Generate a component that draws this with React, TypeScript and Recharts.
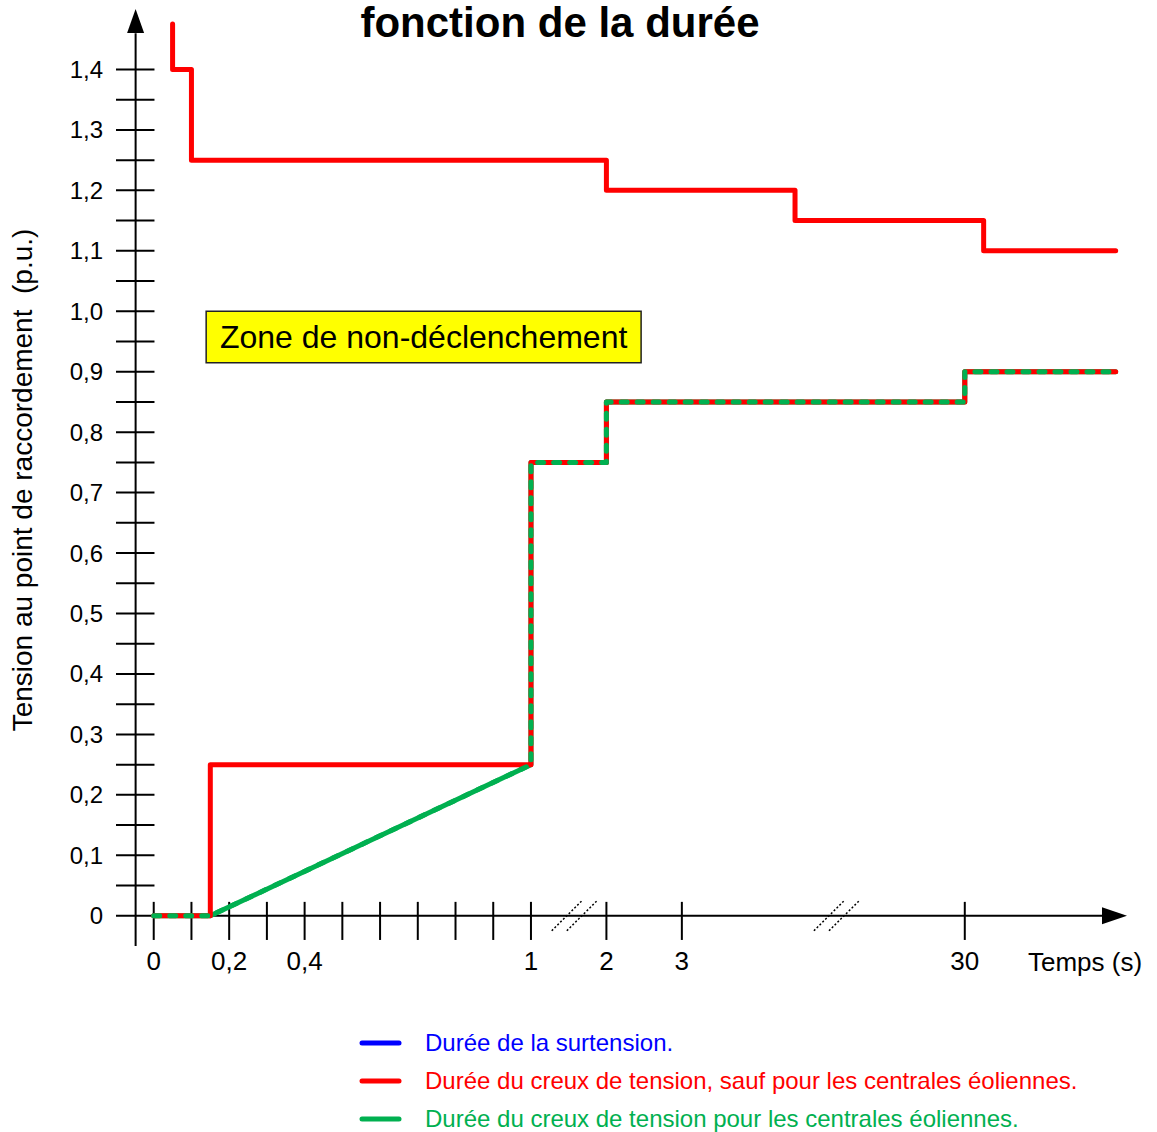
import { LineChart, Line, XAxis, YAxis, ReferenceLine, ReferenceDot, ReferenceArea } from 'recharts'

// x is a position on the broken time axis: 1 unit = 0.1 s up to 1 s, then compressed
const X_TICKS = [0, 1, 2, 3, 4, 5, 6, 7, 8, 9, 10, 12, 14, 21.5]
const X_LABEL_TICKS = [0, 2, 4, 10, 12, 14, 21.5]
const X_LABELS = ['0', '0,2', '0,4', '1', '2', '3', '30']
const X_BREAKS = [11.15, 18.1]

const Y_LABEL_TICKS = [0, 0.1, 0.2, 0.3, 0.4, 0.5, 0.6, 0.7, 0.8, 0.9, 1.0, 1.1, 1.2, 1.3, 1.4]
const Y_MARKS = [
  0.05, 0.1, 0.15, 0.2, 0.25, 0.3, 0.35, 0.4, 0.45, 0.5, 0.55, 0.6, 0.65, 0.7,
  0.75, 0.8, 0.85, 0.9, 0.95, 1.0, 1.05, 1.1, 1.15, 1.2, 1.25, 1.3, 1.35, 1.4,
]

// surtension (upper red)
const overX = [0.5, 0.5, 1, 1, 12, 12, 17, 17, 22, 22, 25.5]
const overV = [1.475, 1.4, 1.4, 1.25, 1.25, 1.2, 1.2, 1.15, 1.15, 1.1, 1.1]
// creux de tension, sauf éoliennes (lower red)
const dipX = [0, 1.5, 1.5, 10, 10, 12, 12, 21.5, 21.5, 25.5]
const dipV = [0, 0, 0.25, 0.25, 0.75, 0.75, 0.85, 0.85, 0.9, 0.9]
// creux de tension, éoliennes (green)
const windX = [0, 1.5, 10, 10, 12, 12, 21.5, 21.5, 25.5]
const windV = [0, 0, 0.25, 0.75, 0.75, 0.85, 0.85, 0.9, 0.9]

const LEGEND_TEXT = [
  'Durée de la surtension.',
  'Durée du creux de tension, sauf pour les centrales éoliennes.',
  'Durée du creux de tension pour les centrales éoliennes.',
]
const LEGEND_COLORS = ['#0000ff', '#ff0000', '#00b050']

const RED = '#ff0000'
const GREEN = '#00b050'
const FONT = '"Liberation Sans", Arial, sans-serif'

const toPts = (xs: number[], vs: number[]) => xs.map((x, i) => ({ x, v: vs[i] }))
const over = toPts(overX, overV)
const dip = toPts(dipX, dipV)
const wind = toPts(windX, windV)

const fmtY = (v: number) => (v === 0 ? '0' : v.toFixed(1).replace('.', ','))
const fmtX = (v: number) => X_LABELS[X_LABEL_TICKS.indexOf(v)] ?? ''

const axisStroke = { stroke: '#000', strokeWidth: 2, ifOverflow: 'visible' as const }

export default function App() {
  return (
    <div style={{ position: 'absolute', left: 0, top: 0, fontFamily: FONT }}>
      <LineChart width={1157} height={1132} margin={{ top: 9, right: 30, bottom: 146, left: 0 }}>
        <XAxis
          dataKey="x"
          type="number"
          domain={[-1, 25.8]}
          allowDataOverflow
          ticks={X_LABEL_TICKS}
          interval={0}
          tickFormatter={fmtX}
          axisLine={false}
          tickLine={false}
          tickSize={0}
          tickMargin={6}
          height={40}
          tick={{ fontSize: 26, fill: '#000', fontFamily: FONT }}
        />
        <YAxis
          type="number"
          domain={[-0.05, 1.5]}
          allowDataOverflow
          ticks={Y_LABEL_TICKS}
          interval={0}
          tickFormatter={fmtY}
          axisLine={false}
          tickLine={false}
          tickSize={0}
          tickMargin={13}
          width={116}
          tick={{ fontSize: 24, fill: '#000', fontFamily: FONT }}
        />

        <ReferenceArea
          x1={1.39}
          x2={12.92}
          y1={0.915}
          y2={1.0}
          fill="#ffff00"
          fillOpacity={1}
          stroke="#222"
          strokeWidth={1.5}
          ifOverflow="visible"
          label={{ value: 'Zone de non-déclenchement', position: 'center', fontSize: 32, fill: '#000', fontFamily: FONT }}
        />

        {/* axes */}
        <ReferenceLine segment={[{ x: -1, y: 0 }, { x: 25.15, y: 0 }]} {...axisStroke} />
        <ReferenceLine segment={[{ x: -0.48, y: -0.05 }, { x: -0.48, y: 1.46 }]} {...axisStroke} />
        {Y_MARKS.map((v) => (
          <ReferenceLine key={'ym' + v} segment={[{ x: -1, y: v }, { x: 0.02, y: v }]} {...axisStroke} />
        ))}
        {X_TICKS.map((p) => (
          <ReferenceLine key={'xm' + p} segment={[{ x: p, y: -0.04 }, { x: p, y: 0.023 }]} {...axisStroke} />
        ))}
        {X_BREAKS.flatMap((b) =>
          [b - 0.2, b + 0.2].map((c) => (
            <ReferenceLine
              key={'br' + c}
              segment={[{ x: c - 0.4, y: -0.0248 }, { x: c + 0.4, y: 0.0248 }]}
              stroke="#000"
              strokeWidth={1.5}
              strokeDasharray="2 2"
              ifOverflow="visible"
            />
          ))
        )}
        <ReferenceDot
          x={25.8}
          y={0}
          r={0}
          ifOverflow="visible"
          shape={(p: any) => <polygon points={`${p.cx},${p.cy} ${p.cx - 25},${p.cy - 8.5} ${p.cx - 25},${p.cy + 8.5}`} fill="#000" />}
        />
        <ReferenceDot
          x={-0.48}
          y={1.5}
          r={0}
          ifOverflow="visible"
          shape={(p: any) => <polygon points={`${p.cx},${p.cy} ${p.cx - 8.5},${p.cy + 24} ${p.cx + 8.5},${p.cy + 24}`} fill="#000" />}
        />

        <Line data={over} dataKey="v" stroke={RED} strokeWidth={5} dot={false} activeDot={false} isAnimationActive={false} strokeLinejoin="round" strokeLinecap="round" />
        <Line data={wind} dataKey="v" stroke={GREEN} strokeWidth={5} dot={false} activeDot={false} isAnimationActive={false} strokeLinejoin="round" strokeLinecap="round" />
        <Line data={dip} dataKey="v" stroke={RED} strokeWidth={5} dot={false} activeDot={false} isAnimationActive={false} strokeLinejoin="round" strokeLinecap="round" />
        <Line data={wind} dataKey="v" stroke={GREEN} strokeWidth={5} strokeDasharray="6 10" dot={false} activeDot={false} isAnimationActive={false} strokeLinejoin="round" strokeLinecap="round" />

        <text x={560} y={37} textAnchor="middle" fontSize={42} fontWeight="bold" fontFamily={FONT} fill="#000">
          fonction de la durée
        </text>
        <text
          transform="translate(32,480) rotate(-90)"
          textAnchor="middle"
          fontSize={28}
          fontFamily={FONT}
          fill="#000"
          style={{ whiteSpace: 'pre' }}
        >
          {'Tension au point de raccordement  (p.u.)'}
        </text>
        <text x={1028} y={971} fontSize={26} fontFamily={FONT} fill="#000">
          Temps (s)
        </text>
        {LEGEND_TEXT.map((t, i) => (
          <g key={t}>
            <line x1={362} x2={399} y1={1043 + i * 38} y2={1043 + i * 38} stroke={LEGEND_COLORS[i]} strokeWidth={5} strokeLinecap="round" />
            <text x={425} y={1043 + i * 38} dy="0.35em" fontSize={24} fontFamily={FONT} fill={LEGEND_COLORS[i]}>
              {t}
            </text>
          </g>
        ))}
      </LineChart>
    </div>
  )
}
